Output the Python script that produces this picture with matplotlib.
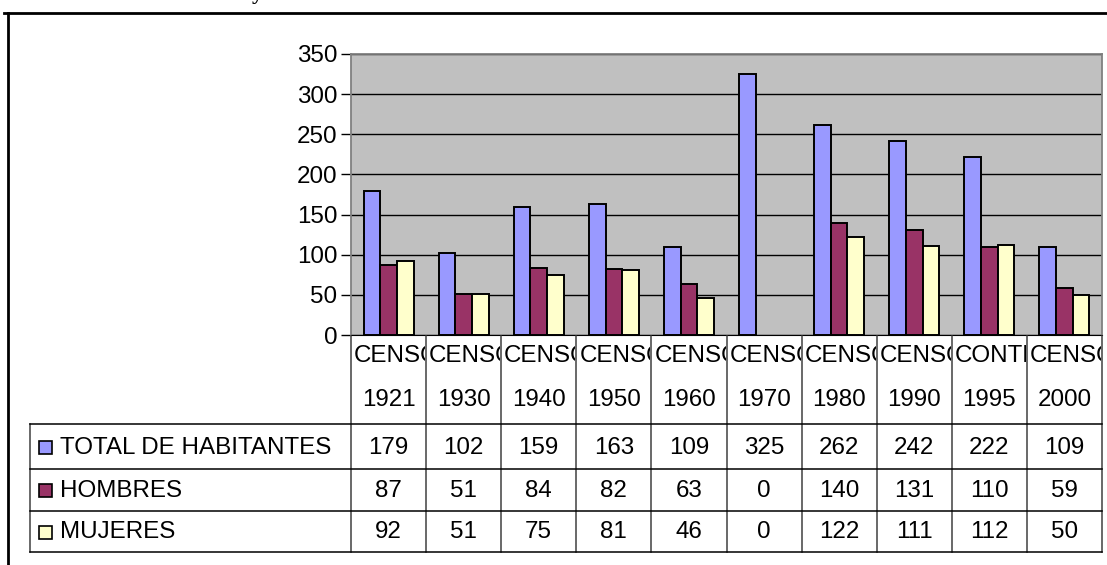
import matplotlib.pyplot as plt
import numpy as np
from matplotlib.lines import Line2D
from matplotlib.patches import Rectangle
from matplotlib.transforms import Bbox

plt.rcParams['font.family'] = ['Liberation Sans', 'DejaVu Sans']

# data
cat_top = ["CENSO", "CENSO", "CENSO", "CENSO", "CENSO", "CENSO", "CENSO", "CENSO", "CONTEO", "CENSO"]
years = ["1921", "1930", "1940", "1950", "1960", "1970", "1980", "1990", "1995", "2000"]
total = [179, 102, 159, 163, 109, 325, 262, 242, 222, 109]
hombres = [87, 51, 84, 82, 63, 0, 140, 131, 110, 59]
mujeres = [92, 51, 75, 81, 46, 0, 122, 111, 112, 50]
series_names = ["TOTAL DE HABITANTES", "HOMBRES", "MUJERES"]
colors = ["#9999FF", "#993366", "#FFFFCC"]

W, H = 1107, 565
fig = plt.figure(figsize=(W / 100, H / 100), dpi=100)

# pixel layout
left, right, top, bottom = 351, 1102, 54, 335
ax = fig.add_axes([left / W, 1 - bottom / H, (right - left) / W, (bottom - top) / H])
ax.set_facecolor("#C0C0C0")

fs = 17.4

n = len(years)
x = np.arange(n)
bw = 1 / 4.5
for k, vals in enumerate([total, hombres, mujeres]):
    lw = [1.4 if v > 0 else 0 for v in vals]
    ax.bar(x + (k - 1) * bw, vals, width=bw, color=colors[k],
           edgecolor="black", linewidth=lw, zorder=3)

ax.set_xlim(-0.5, n - 0.5)
ax.set_ylim(0, 350)
ax.set_yticks(range(0, 351, 50))
ax.yaxis.grid(True, color="black", linewidth=1, zorder=1)
ax.set_xticks([])
ax.tick_params(axis="y", labelsize=fs, length=7, width=1, color="black", pad=3)
for s in ["top", "right", "left"]:
    ax.spines[s].set_color("#808080")
    ax.spines[s].set_linewidth(1.3)
ax.spines["bottom"].set_color("black")

# overlay in pixel coords for the data table and frame
ov = fig.add_axes([0, 0, 1, 1], zorder=5)
ov.set_xlim(0, W)
ov.set_ylim(H, 0)
ov.axis("off")
ov.patch.set_alpha(0)

colw = (right - left) / n
edges = [left + i * colw for i in range(n + 1)]
row_lines = [424, 469, 511, 552]
leg_left = 30

for e in edges:
    ov.add_line(Line2D([e, e], [bottom + 1, row_lines[-1]], color="#404040", lw=1.1))
ov.add_line(Line2D([leg_left, leg_left], [row_lines[0], row_lines[-1]], color="#404040", lw=1.1))
for yl in row_lines:
    ov.add_line(Line2D([leg_left, right], [yl, yl], color="black", lw=1.1))

for i in range(n):
    cx = (edges[i] + edges[i + 1]) / 2
    # clip header text to its column (display coords, y from bottom)
    x0, x1 = edges[i] + 1, edges[i + 1] - 1
    clip = Bbox.from_extents(x0, H - 375, x1, H - 337)
    t = ov.text(edges[i] + 3, 356, cat_top[i], fontsize=fs, ha="left", va="center")
    t.set_clip_box(clip)
    t.set_clip_on(True)
    ov.text(cx, 400, years[i], fontsize=fs, ha="center", va="center")

row_mid = [(row_lines[j] + row_lines[j + 1]) / 2 for j in range(3)]
for j, vals in enumerate([total, hombres, mujeres]):
    ym = row_mid[j]
    ov.add_patch(Rectangle((39, ym - 6), 13, 13, facecolor=colors[j],
                           edgecolor="black", lw=1.2))
    ov.text(60, ym + 1, series_names[j], fontsize=fs, ha="left", va="center")
    for i in range(n):
        cx = (edges[i] + edges[i + 1]) / 2
        ov.text(cx, ym + 1, str(vals[i]), fontsize=fs, ha="center", va="center")

# outer chart frame (top and left edges visible)
ov.add_line(Line2D([4, W], [13, 13], color="black", lw=2))
ov.add_line(Line2D([7.5, 7.5], [13, H], color="black", lw=2))

# cut-off title above the frame
ov.text(257, -1, "y", fontsize=16, fontweight="bold", family="Liberation Serif",
        ha="center", va="baseline", clip_on=False)

fig.savefig("out.png", dpi=100)
